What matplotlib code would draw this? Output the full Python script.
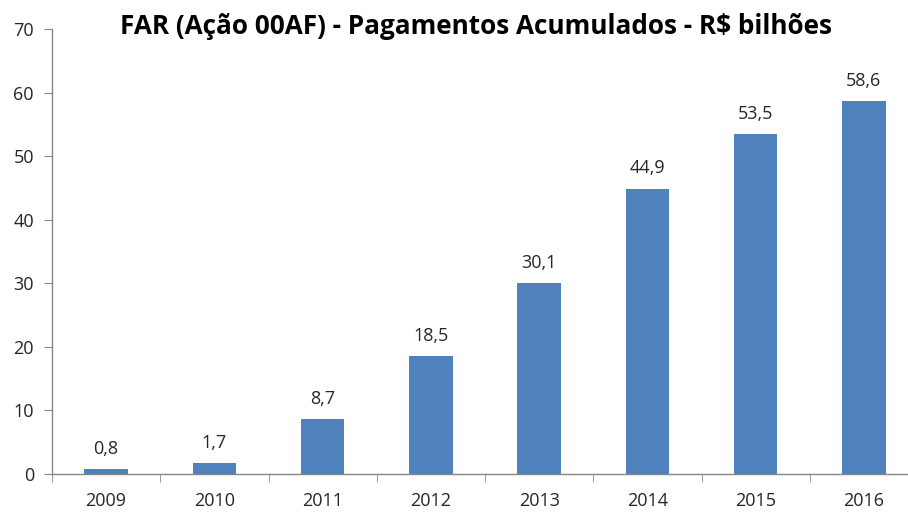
import matplotlib.pyplot as plt
import numpy as np

years = ["2009", "2010", "2011", "2012", "2013", "2014", "2015", "2016"]
values = [0.8, 1.7, 8.7, 18.5, 30.1, 44.9, 53.5, 58.6]
labels = ["0,8", "1,7", "8,7", "18,5", "30,1", "44,9", "53,5", "58,6"]

BAR = "#4F81BD"
AXIS = "#868686"
TEXT = "#262626"

plt.rcParams["font.family"] = ["Open Sans", "DejaVu Sans"]

fig = plt.figure(figsize=(9.08, 5.13), dpi=100)
W, H = 908, 513
ax = fig.add_axes([52 / W, (H - 474) / H, 866 / W, (474 - 29) / H])

x = np.arange(len(years))
ax.bar(x, values, width=0.4, color=BAR, zorder=2)
for xi, v, lab in zip(x, values, labels):
    ax.annotate(lab, (xi, v), xytext=(0, 8), textcoords="offset points",
                ha="center", va="bottom", fontsize=13, color=TEXT)

ax.set_xlim(-0.5, len(years) - 0.5)
ax.set_ylim(0, 70)
ax.set_yticks(range(0, 71, 10))
ax.set_xticks(x)
ax.set_xticklabels(years)
ax.set_xticks(np.arange(-0.5, len(years), 1), minor=True)

for side in ["top", "right"]:
    ax.spines[side].set_visible(False)
for side in ["left", "bottom"]:
    ax.spines[side].set_color(AXIS)
    ax.spines[side].set_linewidth(1.0)

ax.tick_params(axis="y", length=6, color=AXIS, labelsize=13, labelcolor=TEXT, pad=7)
ax.tick_params(axis="x", which="major", length=0, labelsize=13, labelcolor=TEXT, pad=13)
ax.tick_params(axis="x", which="minor", length=6, color=AXIS)

fig.text(476 / W, 1 - 27 / H, "FAR (Ação 00AF) - Pagamentos Acumulados - R$ bilhões",
         ha="center", va="center", fontsize=18.8, fontweight="bold", color="black")

fig.savefig("out.png", dpi=100)
